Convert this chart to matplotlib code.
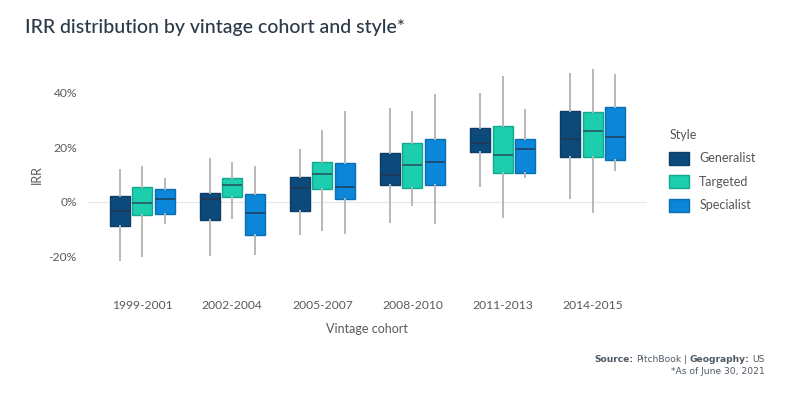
import matplotlib
matplotlib.use("Agg")
import matplotlib.pyplot as plt
from matplotlib.patches import Patch

# IRR distribution per vintage cohort (percent)
cohorts = ["1999-2001", "2002-2004", "2005-2007", "2008-2010", "2011-2013", "2014-2015"]
styles = ["Generalist", "Targeted", "Specialist"]

gen_lo = [-21.4, -19.6, -12.0, -7.6, 5.8, 1.5]
gen_q1 = [-8.8, -6.7, -3.4, 6.0, 18.4, 16.5]
gen_med = [-3.5, 1.1, 4.9, 9.8, 21.7, 22.9]
gen_q3 = [2.2, 3.1, 9.0, 17.9, 27.2, 33.5]
gen_hi = [11.6, 15.8, 18.9, 34.1, 39.5, 46.8]

tar_lo = [-19.8, -6.1, -10.4, -1.2, -5.7, -3.9]
tar_q1 = [-4.9, 1.7, 4.6, 4.9, 10.7, 16.5]
tar_med = [-0.6, 6.3, 10.1, 13.4, 17.1, 26.0]
tar_q3 = [5.3, 8.8, 14.5, 21.7, 27.9, 32.9]
tar_hi = [12.9, 14.1, 26.2, 32.9, 46.0, 48.3]

spe_lo = [-7.9, -19.4, -11.5, -7.7, 9.2, 11.7]
spe_q1 = [-4.6, -12.1, 1.0, 6.1, 10.4, 15.4]
spe_med = [0.9, -4.3, 5.4, 14.6, 19.5, 23.8]
spe_q3 = [4.8, 2.7, 14.1, 23.1, 22.9, 34.7]
spe_hi = [8.5, 12.6, 32.9, 39.3, 33.7, 46.6]

yticks = [-20, 0, 20, 40]

series = [
    (gen_lo, gen_q1, gen_med, gen_q3, gen_hi),
    (tar_lo, tar_q1, tar_med, tar_q3, tar_hi),
    (spe_lo, spe_q1, spe_med, spe_q3, spe_hi),
]
colors = ["#0d4a7c", "#1ccdae", "#0b86d8"]
edges = ["#0b3d66", "#14a88e", "#0a6eb2"]
medcols = ["#1e3a55", "#27606a", "#1c4a70"]

plt.rcParams["font.family"] = ["Lato", "DejaVu Sans"]

fig = plt.figure(figsize=(8.04, 3.94), dpi=100)
ax = fig.add_axes([0.1095, 0.281, 0.695, 0.552])

offsets = [-0.25, 0, 0.25]
for s, (lo, q1, med, q3, hi) in enumerate(series):
    stats = []
    for i in range(len(cohorts)):
        stats.append(dict(whislo=lo[i], q1=q1[i], med=med[i], q3=q3[i], whishi=hi[i]))
    pos = [i + offsets[s] for i in range(len(cohorts))]
    ax.bxp(stats, positions=pos, widths=0.222, patch_artist=True,
           showfliers=False, showcaps=False,
           boxprops=dict(facecolor=colors[s], edgecolor=edges[s], linewidth=1),
           medianprops=dict(color=medcols[s], linewidth=1.3),
           whiskerprops=dict(color="#b8b8b8", linewidth=1.4))

ax.axhline(0, color="#e6e6e6", linewidth=0.8, zorder=0)
ax.set_xlim(-0.6, 5.6)
ax.set_ylim(-30, 50)
ax.set_xticks(range(len(cohorts)))
ax.set_xticklabels(cohorts)
ax.set_yticks(yticks)
ax.set_yticklabels([f"{t}%" for t in yticks])
ax.tick_params(length=0, colors="#5a5a5a", labelsize=8.7)
ax.tick_params(axis="x", pad=12)
ax.tick_params(axis="y", pad=8)
for sp in ax.spines.values():
    sp.set_visible(False)
ax.set_xlabel("Vintage cohort", color="#5a5a5a", fontsize=9, labelpad=9)
ax.set_ylabel("IRR", color="#5a5a5a", fontsize=9, labelpad=4)

handles = [Patch(facecolor=colors[i], edgecolor=edges[i]) for i in range(3)]
leg = ax.legend(handles, styles, title="Style", loc="upper left",
                bbox_to_anchor=(1.02, 0.76), frameon=False, fontsize=9,
                title_fontsize=9, labelcolor="#555555", handlelength=1.6,
                handleheight=1.2, labelspacing=0.85, alignment="left")
leg.get_title().set_color("#555555")

fig.text(0.031, 0.93, "IRR distribution by vintage cohort and style*",
         fontsize=14, weight="medium", color="#2b3a48", va="center")

# source line: bold and regular pieces laid out left to right, right-aligned overall
fig.canvas.draw()
r = fig.canvas.get_renderer()
parts = [("Source:", "bold"), ("PitchBook", "normal"), ("|", "normal"),
         ("Geography:", "bold"), ("US", "normal")]
fs = 6.6
src_kw = dict(fontsize=fs, color="#505a64", family="DejaVu Sans", va="center")
probe = [fig.text(0, 0, s, **src_kw) for s in ("a a", "aa")]
gap = (probe[0].get_window_extent(r).width - probe[1].get_window_extent(r).width)
for p in probe:
    p.remove()
texts = [fig.text(0, 1 - 359 / 394, s, weight=w, **src_kw) for s, w in parts]
widths = [t.get_window_extent(r).width for t in texts]
total = sum(widths) + gap * (len(parts) - 1)
xpix = 765 - total
for t, w in zip(texts, widths):
    t.set_x(xpix / fig.bbox.width)
    xpix += w + gap
fig.text(765 / 804, 1 - 372 / 394, "*As of June 30, 2021", ha="right", **src_kw)

fig.savefig("out.png", dpi=100)
